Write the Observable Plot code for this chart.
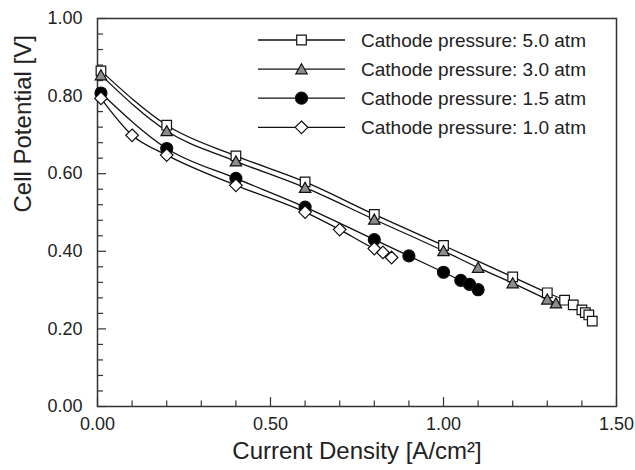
<!DOCTYPE html>
<html>
<head>
<meta charset="utf-8">
<script src="https://cdn.jsdelivr.net/npm/d3@7"></script>
<script src="https://cdn.jsdelivr.net/npm/@observablehq/plot@0.6"></script>
<style>
  html, body { margin: 0; padding: 0; background: #fff; }
  #chart { width: 635px; height: 470px; }
</style>
</head>
<body>
<div id="chart"></div>
<script>
// Polarization curves of the fuel cell at four cathode pressures
const seriesLabels = [
  "Cathode pressure: 5.0 atm",
  "Cathode pressure: 3.0 atm",
  "Cathode pressure: 1.5 atm",
  "Cathode pressure: 1.0 atm"
];

// Current density [A/cm²] and cell potential [V] for each pressure
const current50 = [0.01, 0.2, 0.4, 0.6, 0.8, 1.0, 1.2, 1.3, 1.35, 1.375, 1.40, 1.41, 1.42, 1.43];
const potential50 = [0.865, 0.725, 0.646, 0.579, 0.495, 0.415, 0.334, 0.293, 0.274, 0.262, 0.249, 0.242, 0.236, 0.220];

const current30 = [0.01, 0.2, 0.4, 0.6, 0.8, 1.0, 1.1, 1.2, 1.3, 1.325];
const potential30 = [0.854, 0.710, 0.632, 0.564, 0.482, 0.401, 0.358, 0.318, 0.276, 0.266];

const current15 = [0.01, 0.2, 0.4, 0.6, 0.8, 0.9, 1.0, 1.05, 1.075, 1.1];
const potential15 = [0.808, 0.665, 0.588, 0.514, 0.430, 0.388, 0.346, 0.325, 0.315, 0.301];

const current10 = [0.01, 0.1, 0.2, 0.4, 0.6, 0.7, 0.8, 0.825, 0.85];
const potential10 = [0.794, 0.699, 0.648, 0.570, 0.501, 0.456, 0.407, 0.397, 0.384];

// Axis ticks
const xMajorTicks = [0, 0.5, 1.0, 1.5];
const xMinorTicks = [0.1, 0.2, 0.3, 0.4, 0.6, 0.7, 0.8, 0.9, 1.1, 1.2, 1.3, 1.4];
const yMajorTicks = [0, 0.2, 0.4, 0.6, 0.8, 1.0];
const yMinorTicks = [0.04, 0.08, 0.12, 0.16, 0.24, 0.28, 0.32, 0.36, 0.44, 0.48, 0.52, 0.56,
                     0.64, 0.68, 0.72, 0.76, 0.84, 0.88, 0.92, 0.96];

// Marker shapes (size = π r²)
const rad = (size) => Math.sqrt(size / Math.PI);
const squareSymbol = { draw(ctx, size) { const r = rad(size) * 0.8; ctx.rect(-r, -r, 2 * r, 2 * r); } };
const triangleSymbol = { draw(ctx, size) {
  const r = rad(size);
  ctx.moveTo(0, -0.9 * r); ctx.lineTo(0.95 * r, 0.78 * r); ctx.lineTo(-0.95 * r, 0.78 * r); ctx.closePath();
} };
const circleSymbol = { draw(ctx, size) { const r = rad(size); ctx.moveTo(r, 0); ctx.arc(0, 0, r, 0, 2 * Math.PI); } };
const diamondSymbol = { draw(ctx, size) {
  const r = rad(size) * 1.05;
  ctx.moveTo(0, -r); ctx.lineTo(r, 0); ctx.lineTo(0, r); ctx.lineTo(-r, 0); ctx.closePath();
} };

const symbols = [squareSymbol, triangleSymbol, circleSymbol, diamondSymbol];
const fills = ["#ffffff", "#8c8c8c", "#000000", "#ffffff"];

const seriesData = [
  [current50, potential50],
  [current30, potential30],
  [current15, potential15],
  [current10, potential10]
].map(([xs, ys], s) => xs.map((x, i) => ({ series: s, current: x, potential: ys[i] })));

const font = '"Liberation Sans", Arial, Helvetica, sans-serif';
const ink = "#222";

const W = 635, H = 470;
const M = { top: 18, right: 19, bottom: 64, left: 97 };
const frameW = W - M.left - M.right;
const frameH = H - M.top - M.bottom;

// inward tick marks along the bottom and left edges of the frame
const tickStyle = { stroke: "#333", strokeWidth: 1.2 };
const bottomTicks = (ticks, len) => Plot.tickX(ticks, { x: (d) => d, insetTop: frameH - len, ...tickStyle });
const leftTicks = (ticks, len) => Plot.tickY(ticks, { y: (d) => d, insetRight: frameW - len, ...tickStyle });

const marks = [
  bottomTicks(xMinorTicks, 5.5),
  bottomTicks(xMajorTicks, 9),
  leftTicks(yMinorTicks, 6),
  leftTicks(yMajorTicks, 9),
  Plot.frame({ stroke: "#333", strokeWidth: 1.5 }),
  // tick labels
  Plot.axisX(xMajorTicks, { tickSize: 0, tickPadding: 11, tickFormat: d3.format(".2f"), label: null, fontSize: 18, fill: ink }),
  Plot.axisY(yMajorTicks, { tickSize: 0, tickPadding: 15, tickFormat: d3.format(".2f"), label: null, fontSize: 18, fill: ink }),
  // axis titles
  Plot.text(["Current Density [A/cm²]"], { frameAnchor: "bottom", dy: 52, text: (d) => d, fontSize: 24, fill: ink }),
  Plot.text(["Cell Potential [V]"], { frameAnchor: "left", dx: -74, rotate: -90, text: (d) => d, fontSize: 24, fill: ink }),
  // fitted curves
  ...seriesData.map((rows) =>
    Plot.line(rows, { x: "current", y: "potential", curve: "monotone-x", stroke: "#111", strokeWidth: 1.3 })
  ),
  // measured points
  ...seriesData.map((rows, s) =>
    Plot.dot(rows, { x: "current", y: "potential", r: 6, symbol: () => symbols[s], fill: fills[s], stroke: "#111", strokeWidth: 1.2 })
  )
];

const svg = Plot.plot({
  width: W,
  height: H,
  marginTop: M.top,
  marginRight: M.right,
  marginBottom: M.bottom,
  marginLeft: M.left,
  x: { domain: [0, 1.5] },
  y: { domain: [0, 1] },
  style: { fontFamily: font, background: "#fff", color: ink, overflow: "visible" },
  marks
});

// Legend in the upper right of the frame
const legend = d3.select(svg).append("g")
  .attr("font-family", font)
  .attr("text-anchor", "start");
seriesLabels.forEach((label, i) => {
  const y = 40 + i * 29.1;
  const row = legend.append("g").attr("transform", `translate(0,${y})`);
  row.append("line").attr("x1", 258).attr("x2", 345).attr("y1", 0).attr("y2", 0)
    .attr("stroke", "#111").attr("stroke-width", 1.3);
  row.append("path").attr("transform", "translate(301.5,0)")
    .attr("d", d3.symbol(symbols[i], 36 * Math.PI)())
    .attr("fill", fills[i]).attr("stroke", "#111").attr("stroke-width", 1.2);
  row.append("text").attr("x", 361).attr("y", 0).attr("dy", "0.35em")
    .attr("font-size", 19).attr("fill", ink).text(label);
});

document.getElementById("chart").appendChild(svg);
</script>
</body>
</html>
